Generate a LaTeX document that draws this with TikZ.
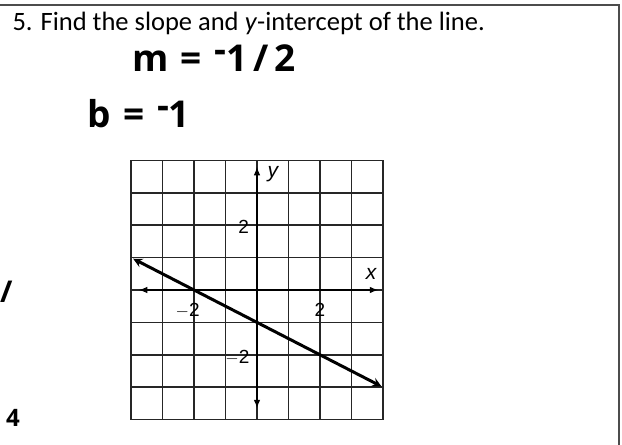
\documentclass[tikz,border=0pt]{standalone}
\usepackage{fontspec}
\setmainfont{Carlito}
\newfontfamily\handfont{Open Sans}
\newfontfamily\labelfont{Liberation Sans}
\usetikzlibrary{arrows,shapes}
\tikzstyle{gridline}=[draw=black!85,line width=1.6pt]
\tikzstyle{axis}=[draw,line width=1.9pt,latex-latex]
\tikzstyle{graphline}=[draw,line width=3pt,stealth-stealth]
\tikzstyle{ticklabel}=[font=\labelfont\fontsize{19}{19}\selectfont,inner sep=0pt]
\tikzstyle{hand}=[font=\handfont\bfseries\fontsize{37}{37}\selectfont,inner sep=0pt]

\begin{document}
\begin{tikzpicture}[x=1pt,y=-1pt]

    \useasboundingbox (0,0) rectangle (622,445);

    % box round the exercise
    \draw[black!70,line width=1.5pt] (0,5) -- (619,5) -- (619,445);

    \node[anchor=base west,font=\fontsize{26.5}{26.5}\selectfont] (title) at (9,30)
        {5. Find the slope and \textit{y}-intercept of the line.};

    % handwritten answers
    \node[hand] (slope) at (214,58) {m\,\,=\,\,\raisebox{0.25em}{-}1\,/\,2};
    \node[hand] (intercept) at (139,114) {b\,\,=\,\,\raisebox{0.25em}{-}1};
    \node[hand,anchor=west,font=\handfont\bfseries\fontsize{30}{30}\selectfont] (mark) at (0,292) {/};
    \node[hand,anchor=west,font=\handfont\bfseries\fontsize{24}{24}\selectfont] (mark2) at (6,418) {4};

    \begin{scope}[shift={(257,290)},x=31.5pt,y=32.4pt]

    \foreach \i in {-4,...,4}
        \draw[gridline] (\i,-4) -- (\i,4);
    \foreach \i in {-4,...,4}
        \draw[gridline] (-4,\i) -- (4,\i);

    \coordinate (xl) at (-3.75,0);
    \coordinate (xr) at (3.85,0);
    \coordinate (yb) at (0,-3.65);
    \coordinate (yt) at (0,3.8);
    \path[axis] (xl) -- (xr);
    \path[axis] (yb) -- (yt);

    \node[ticklabel,font=\labelfont\itshape\fontsize{21}{21}\selectfont] (ylab) at (0.5,3.58) {y};
    \node[ticklabel,font=\labelfont\itshape\fontsize{21}{21}\selectfont] (xlab) at (3.62,0.5) {x};

    \foreach \x/\y/\name/\txt in {-0.42/1.95/ytwo/2, -0.62/-2.1/ymtwo/$-$2, -2.2/-0.62/xmtwo/$-$2, 2.0/-0.62/xtwo/2}
        \node[ticklabel] (\name) at (\x,\y) {\txt};

    % the line y = -x/2 - 1
    \coordinate (lstart) at (-3.93,0.965);
    \coordinate (lend) at (3.95,-2.975);
    \path[graphline] (lstart) -- (lend);

    \end{scope}

\end{tikzpicture}
\end{document}
